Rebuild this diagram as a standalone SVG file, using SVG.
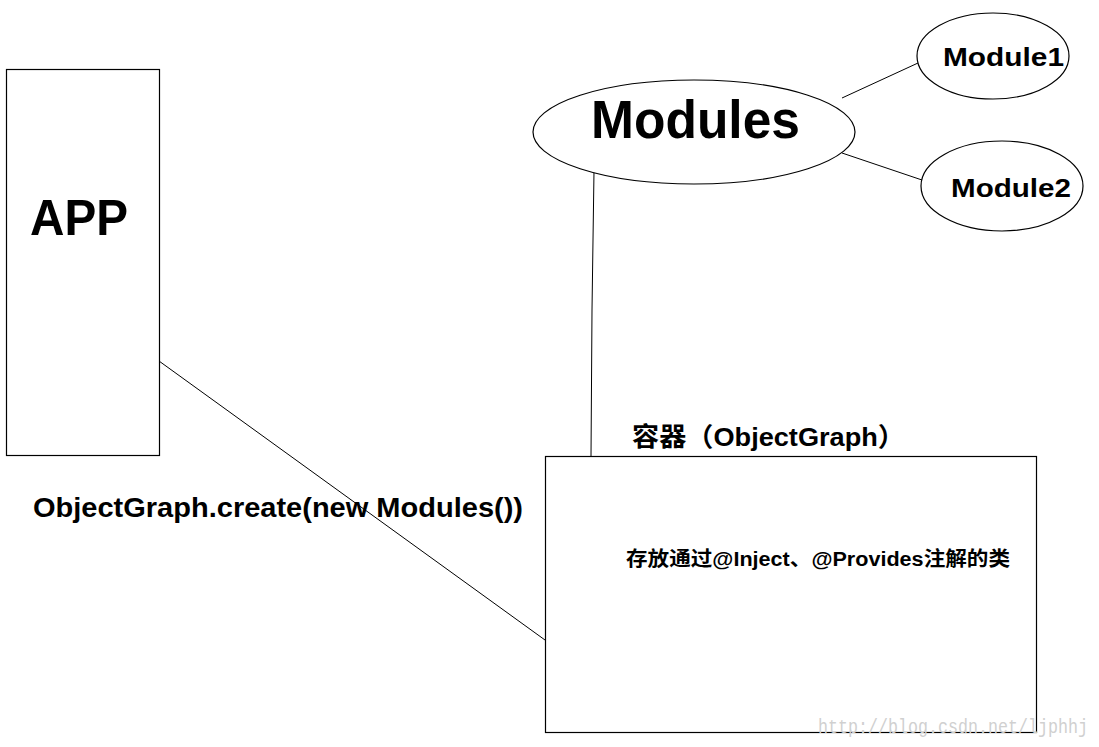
<svg xmlns="http://www.w3.org/2000/svg" width="1099" height="747" viewBox="0 0 1099 747">
<style>
.shape{fill:#fff;stroke:#000;stroke-width:1.2}
.line{fill:none;stroke:#000;stroke-width:1}
.t{font-family:"Liberation Sans","Noto Sans CJK SC",sans-serif;font-weight:bold;fill:#000}
.wm{font-family:"Liberation Mono","DejaVu Sans Mono",monospace;fill:#d0d0d0}
</style>
<rect width="1099" height="747" fill="#fff"/>
<g id="connectors">
<line class="line" x1="159" y1="361" x2="545" y2="640"/>
<polyline class="line" points="594,171 592,310 591,456"/>
<line class="line" x1="842" y1="98" x2="918" y2="63"/>
<line class="line" x1="842" y1="153" x2="922" y2="180"/>
</g>
<g id="app">
<rect class="shape" x="6.5" y="69.5" width="153" height="386"/>
<text class="t" x="30" y="235" font-size="50" textLength="98" lengthAdjust="spacingAndGlyphs">APP</text>
</g>
<g id="modules">
<ellipse class="shape" cx="694" cy="132" rx="161" ry="52" fill="none"/>
<text class="t" x="591" y="138" font-size="54" textLength="209" lengthAdjust="spacingAndGlyphs">Modules</text>
</g>
<g id="module1">
<ellipse class="shape" cx="993" cy="56" rx="76" ry="43"/>
<text class="t" x="943" y="66" font-size="26" textLength="121" lengthAdjust="spacingAndGlyphs">Module1</text>
</g>
<g id="module2">
<ellipse class="shape" cx="1002" cy="186" rx="81" ry="45"/>
<text class="t" x="951" y="197" font-size="26" textLength="120" lengthAdjust="spacingAndGlyphs">Module2</text>
</g>
<g id="container">
<rect class="shape" x="545.5" y="456.5" width="491" height="276"/>
<text class="t" x="632" y="446" font-size="26" textLength="273" lengthAdjust="spacingAndGlyphs">容器（ObjectGraph）</text>
<text class="t" x="626" y="566" font-size="20" textLength="384" lengthAdjust="spacingAndGlyphs">存放通过@Inject、@Provides注解的类</text>
</g>
<g id="call-label">
<text class="t" x="33" y="517" font-size="27" textLength="490" lengthAdjust="spacingAndGlyphs">ObjectGraph.create(new Modules())</text>
</g>
<text class="wm" x="818" y="733" font-size="20" textLength="270" lengthAdjust="spacingAndGlyphs">http://blog.csdn.net/ljphhj</text>
</svg>
